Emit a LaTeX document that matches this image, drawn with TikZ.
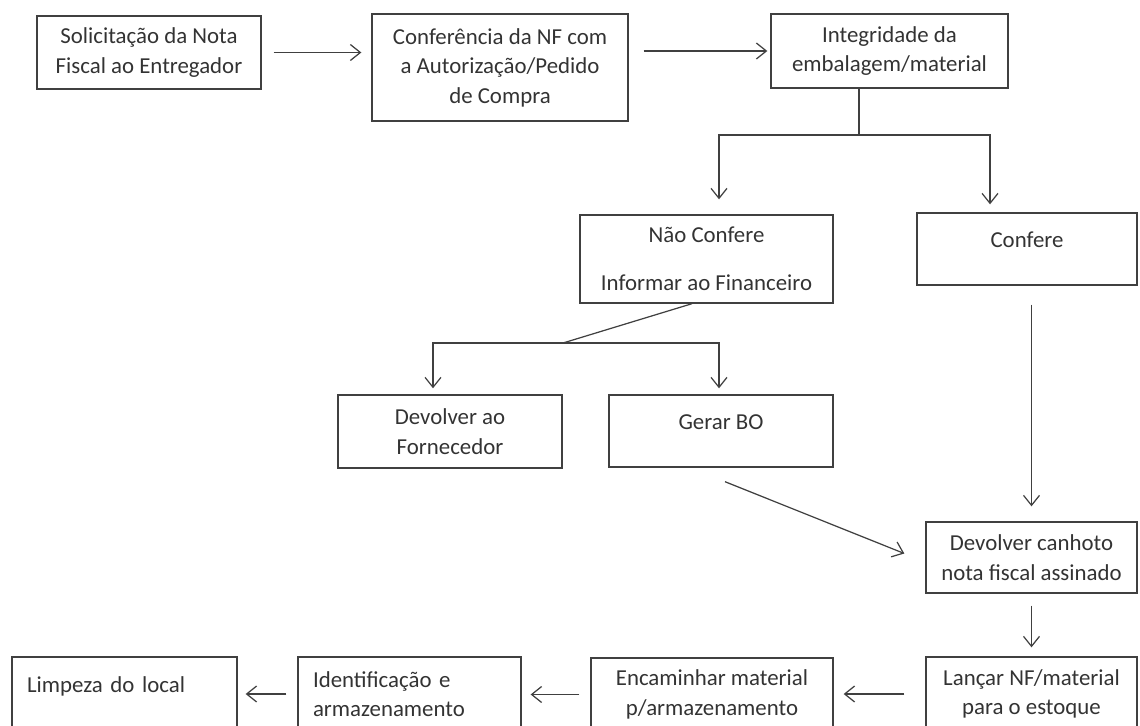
\documentclass[tikz,border=0pt]{standalone}
\usepackage{fontspec}
\setmainfont{Carlito}
\usetikzlibrary{arrows.meta}

\begin{document}
\begin{tikzpicture}[x=0.02cm, y=-0.02cm,
	every node/.style={font=\fontsize{13}{16.8}\selectfont, text=black!80},
	box/.style={draw=black!75, line width=0.8pt, rectangle, inner sep=0pt, align=center},
	link/.style={draw=black!75, line width=0.7pt},
	flow/.style={link, -{Straight Barb[length=0.2cm, width=0.32cm]}}]

	  \useasboundingbox (0,0) rectangle (1140,726);
	  \clip (0,0) rectangle (1140,726);

	  \node [box, minimum width=4.48cm, minimum height=1.46cm] (sol) at (149,52.5) {Solicitação da Nota\\Fiscal ao Entregador};
	  \node [box, minimum width=5.12cm, minimum height=2.14cm] (conf) at (500,67.5) {Conferência da NF com\\a Autorização/Pedido\\de Compra};
	  \node [box, minimum width=4.74cm, minimum height=1.48cm] (integ) at (889.5,51) {Integridade da\\embalagem/material};

	  \node [box, minimum width=5.06cm, minimum height=1.76cm] (naoconf) at (706.5,259) {Não Confere\\[0.36cm]Informar ao Financeiro};
	  \node [box, minimum width=4.4cm, minimum height=1.44cm, text depth=0.36cm] (confere) at (1027,249) {Confere};

	  \node [box, minimum width=4.48cm, minimum height=1.46cm] (devforn) at (450,431.5) {Devolver ao\\Fornecedor};
	  \node [box, minimum width=4.48cm, minimum height=1.44cm, text depth=0.36cm] (gerarbo) at (721,431) {Gerar BO};

	  \node [box, minimum width=4.22cm, minimum height=1.42cm] (canhoto) at (1031.5,557.5) {Devolver canhoto\\nota fiscal assinado};

	  \node [box, minimum width=4.22cm, minimum height=1.48cm] (lancar) at (1031.5,694) {Lançar NF/material\\para o estoque};
	  \node [box, minimum width=4.84cm, minimum height=1.46cm] (encam) at (712,694.5) {Encaminhar material\\p/armazenamento};
	  \node [box, minimum width=4.46cm, minimum height=1.48cm, inner xsep=0.3cm, text width=3.86cm, align=left] (ident) at (409.5,694) {Identificação e\\armazenamento};
	  \node [box, minimum width=4.5cm, minimum height=1.48cm, inner xsep=0.3cm, text width=3.9cm, align=left, text depth=0.38cm] (limpeza) at (124.5,694) {Limpeza do local};

	  % linha de cima
	  \draw [flow, shorten <=0.24cm, shorten >=0.2cm] (sol.east) -- (sol.east -| conf.west);
	  \draw [flow, shorten <=0.3cm, shorten >=0.06cm] (integ.west -| conf.east) -- (integ.west);

	  % confere / nao confere
	  \coordinate (fork1) at (859,135);
	  \coordinate (fork1l) at (719,135);
	  \coordinate (fork1r) at (990,135);
	  \draw [link] (integ.south -| fork1) -- (fork1);
	  \draw [flow, shorten >=0.3cm] (fork1) -| (naoconf.north -| fork1l);
	  \draw [flow, shorten >=0.16cm] (fork1) -| (confere.north -| fork1r);

	  % devolver / gerar BO
	  \coordinate (fork2) at (563,343);
	  \coordinate (fork2l) at (433,343);
	  \coordinate (fork2r) at (719,343);
	  \draw [link] ([xshift=-0.29cm]naoconf.south) -- (fork2);
	  \draw [flow, shorten >=0.12cm] (fork2) -| (devforn.north -| fork2l);
	  \draw [flow, shorten >=0.12cm] (fork2) -| (gerarbo.north -| fork2r);

	  \draw [flow] ([shift={(4,14)}]gerarbo.south) -- ([shift={(-21,-4)}]canhoto.west);
	  \draw [flow, shorten <=0.38cm, shorten >=0.3cm] (confere.south -| canhoto.north) -- (canhoto.north);
	  \draw [flow, shorten <=0.24cm, shorten >=0.18cm] (canhoto.south) -- (lancar.north);

	  % linha de baixo
	  \draw [flow, shorten <=0.42cm, shorten >=0.2cm] (lancar.west) -- (lancar.west -| encam.east);
	  \draw [flow, shorten <=0.22cm, shorten >=0.18cm] (encam.west) -- (encam.west -| ident.east);
	  \draw [flow, shorten <=0.22cm, shorten >=0.16cm] (ident.west) -- (ident.west -| limpeza.east);
	\end{tikzpicture}
\end{document}
